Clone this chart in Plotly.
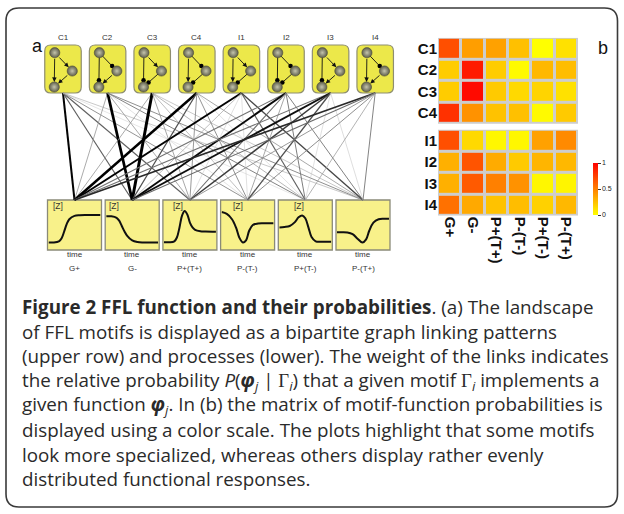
import plotly.graph_objects as go

# ---------------- data ----------------
motifs = ["C1", "C2", "C3", "C4", "I1", "I2", "I3", "I4"]
functions = ["G+", "G-", "P+(T+)", "P-(T-)", "P+(T-)", "P-(T+)"]
# edge signs of each motif: (X->Y, X->Z, Y->Z); +1 activation, -1 repression
motif_signs = [(1, 1, 1), (-1, -1, 1), (1, -1, -1), (-1, 1, -1),
               (1, 1, -1), (-1, -1, -1), (1, -1, 1), (-1, 1, 1)]
# P(phi_j | Gamma_i)
prob_C1 = [0.69, 0.38, 0.37, 0.25, 0.00, 0.12]
prob_C2 = [0.20, 0.90, 0.20, 0.02, 0.28, 0.26]
prob_C3 = [0.20, 0.96, 0.21, 0.15, 0.17, 0.12]
prob_C4 = [0.81, 0.43, 0.24, 0.25, 0.02, 0.21]
prob_I1 = [0.69, 0.15, 0.03, 0.03, 0.37, 0.46]
prob_I2 = [0.31, 0.67, 0.33, 0.21, 0.29, 0.28]
prob_I3 = [0.31, 0.65, 0.50, 0.43, 0.03, 0.04]
prob_I4 = [0.56, 0.34, 0.24, 0.26, 0.18, 0.28]
probs = [prob_C1, prob_C2, prob_C3, prob_C4, prob_I1, prob_I2, prob_I3, prob_I4]

# response curves [Z](time)
t_Gp = [0, 1, 2, 2.5, 3, 3.5, 4, 5, 6, 7, 8, 10]
z_Gp = [0.135, 0.135, 0.16, 0.22, 0.36, 0.52, 0.62, 0.69, 0.705, 0.71, 0.71, 0.71]
t_Gm = [0, 1, 2, 2.5, 3, 3.5, 4, 5, 6, 7, 8, 10]
z_Gm = [0.68, 0.68, 0.65, 0.59, 0.48, 0.37, 0.28, 0.18, 0.145, 0.135, 0.135, 0.135]
t_PpTp = [0, 1, 2, 2.5, 3, 3.5, 4, 4.5, 5, 5.5, 6, 7, 8, 10]
z_PpTp = [0.14, 0.14, 0.16, 0.24, 0.45, 0.70, 0.79, 0.72, 0.55, 0.45, 0.40, 0.37, 0.365, 0.36]
t_PmTm = [0, 1, 2, 2.8, 3.4, 4.1, 4.7, 5.3, 6, 7, 8, 10]
z_PmTm = [0.77, 0.73, 0.62, 0.44, 0.24, 0.135, 0.18, 0.38, 0.50, 0.53, 0.535, 0.535]
t_PpTm = [0, 1, 2, 3, 3.7, 4.4, 5, 5.6, 6.2, 7, 8, 10]
z_PpTm = [0.45, 0.46, 0.48, 0.56, 0.66, 0.70, 0.64, 0.45, 0.25, 0.16, 0.15, 0.15]
t_PmTp = [0, 1, 2, 3, 4, 4.9, 5.6, 6.2, 7, 8, 9, 10]
z_PmTp = [0.35, 0.35, 0.345, 0.31, 0.21, 0.135, 0.20, 0.38, 0.55, 0.62, 0.63, 0.63]
curves = [(t_Gp, z_Gp), (t_Gm, z_Gm), (t_PpTp, z_PpTp),
          (t_PmTm, z_PmTm), (t_PpTm, z_PpTm), (t_PmTp, z_PmTp)]
show_z = [True, True, True, True, True, False]
z_label_dx = [3, 2, 8, 10, 14, 0]

caption_lines = [
    "<b>Figure 2 FFL function and their probabilities</b>. (a) The landscape",
    "of FFL motifs is displayed as a bipartite graph linking patterns",
    "(upper row) and processes (lower). The weight of the links indicates",
    "the relative probability <i>P</i>(<b><i>φ</i></b><sub><i>j</i></sub> | "
    "<span style='font-family:Liberation Serif'>Γ</span><sub><i>i</i></sub>) that a given motif "
    "<span style='font-family:Liberation Serif'>Γ</span><sub><i>i</i></sub> implements a",
    "given function <b><i>φ</i></b><sub><i>j</i></sub>. In (b) the matrix of motif-function probabilities is",
    "displayed using a color scale. The plots highlight that some motifs",
    "look more specialized, whereas others display rather evenly",
    "distributed functional responses.",
]

# ---------------- layout geometry (pixels) ----------------
W, H = 624, 514
M_X0, M_DX, M_W = 63.0, 44.6, 36.5          # motif boxes
M_TOP, M_BOT = 45.0, 93.0
F_X0, F_DX, F_W = 74.5, 57.7, 54.0          # function boxes
F_TOP, F_BOT = 200.0, 250.0
NODE_R = 4.6

def py(y):
    return 1 - y / H

def rrect(x0, y0, x1, y1, r):
    return (f"M{x0+r},{y0} L{x1-r},{y0} Q{x1},{y0} {x1},{y0+r} L{x1},{y1-r} "
            f"Q{x1},{y1} {x1-r},{y1} L{x0+r},{y1} Q{x0},{y1} {x0},{y1-r} "
            f"L{x0},{y0+r} Q{x0},{y0} {x0+r},{y0} Z")

fig = go.Figure()
shapes = []
annotations = []

# outer frame
shapes.append(dict(type="path", path=rrect(6, 8, 617.5, 507, 13), xref="x", yref="y",
                   line=dict(color="#3a3a3a", width=1.6), layer="below"))

# ---- links between motifs and functions
for i, m in enumerate(motifs):
    mx = M_X0 + M_DX * i
    for j, f in enumerate(functions):
        fx = F_X0 + F_DX * j
        v = probs[i][j]
        g = int(round(max(0.0, 205 * (1 - v / 0.7))))
        fig.add_trace(go.Scatter(
            x=[mx, fx], y=[M_BOT, F_TOP], mode="lines", xaxis="x", yaxis="y",
            line=dict(color=f"rgb({g},{g},{g})", width=0.5 + 2.6 * v ** 1.4),
            hoverinfo="skip", showlegend=False))

# ---- motif boxes, nodes and edges
node_x, node_y = [], []
for i, m in enumerate(motifs):
    cx = M_X0 + M_DX * i
    L = cx - M_W / 2
    shapes.append(dict(type="path", path=rrect(L, M_TOP, L + M_W, M_BOT, 6),
                       xref="x", yref="y", fillcolor="#ECE84A",
                       line=dict(color="#8e8e70", width=1.2), layer="below"))
    annotations.append(dict(x=cx, y=37.5, xref="x", yref="y", text=m, showarrow=False,
                            font=dict(family="Arial, Liberation Sans", size=8, color="#333")))
    X = (L + 10, 52.7)
    Y = (L + 27.5, 71.0)
    Z = (L + 9.5, 87.0)
    node_x += [X[0], Y[0], Z[0]]
    node_y += [X[1], Y[1], Z[1]]
    for (a, b), s in zip([(X, Y), (X, Z), (Y, Z)], motif_signs[i]):
        dx, dy = b[0] - a[0], b[1] - a[1]
        d = (dx * dx + dy * dy) ** 0.5
        ux, uy = dx / d, dy / d
        sx, sy = a[0] + ux * NODE_R, a[1] + uy * NODE_R
        if s > 0:
            ex, ey = b[0] - ux * (NODE_R + 0.5), b[1] - uy * (NODE_R + 0.5)
            annotations.append(dict(x=ex, y=ey, ax=sx, ay=sy, xref="x", yref="y",
                                    axref="x", ayref="y", text="", showarrow=True,
                                    arrowhead=2, arrowsize=1.0, arrowwidth=0.9,
                                    arrowcolor="#111", standoff=0, startstandoff=0))
        else:
            ex, ey = b[0] - ux * (NODE_R + 2.2), b[1] - uy * (NODE_R + 2.2)
            fig.add_trace(go.Scatter(x=[sx, ex], y=[sy, ey], mode="lines", xaxis="x", yaxis="y",
                                     line=dict(color="#111", width=0.9),
                                     hoverinfo="skip", showlegend=False))
            fig.add_trace(go.Scatter(x=[ex], y=[ey], mode="markers", xaxis="x", yaxis="y",
                                     marker=dict(color="#000", size=4.5),
                                     hoverinfo="skip", showlegend=False))

fig.add_trace(go.Scatter(
    x=node_x, y=node_y, mode="markers", xaxis="x", yaxis="y",
    marker=dict(size=2 * NODE_R + 1, color="#5f5f4c",
                gradient=dict(type="radial", color="#c4c4ac"),
                line=dict(color="#4a4a3a", width=0.6)),
    hoverinfo="skip", showlegend=False))

# ---- function boxes with curves
for j, f in enumerate(functions):
    cx = F_X0 + F_DX * j
    x0, x1 = cx - F_W / 2, cx + F_W / 2
    shapes.append(dict(type="rect", x0=x0, x1=x1, y0=F_TOP, y1=F_BOT, xref="x", yref="y",
                       fillcolor="#F8F18A", line=dict(color="#8a8a78", width=1.3), layer="below"))
    ax_id = j + 3
    t, z = curves[j]
    fig.add_trace(go.Scatter(x=t, y=z, mode="lines", line=dict(color="#111", width=2, shape="spline"),
                             xaxis=f"x{ax_id}", yaxis=f"y{ax_id}", hoverinfo="skip", showlegend=False))
    fig.update_layout(**{
        f"xaxis{ax_id}": dict(domain=[(x0 + 1) / W, (x1 - 1) / W], range=[0, 10], visible=False,
                              anchor=f"y{ax_id}", fixedrange=True),
        f"yaxis{ax_id}": dict(domain=[py(F_BOT - 1), py(F_TOP + 1)], range=[0, 1], visible=False,
                              anchor=f"x{ax_id}", fixedrange=True),
    })
    if show_z[j]:
        annotations.append(dict(x=x0 + z_label_dx[j], y=206, xref="x", yref="y", text="[Z]",
                                xanchor="left", showarrow=False,
                                font=dict(family="Arial, Liberation Sans", size=8.5, color="#333")))
    annotations.append(dict(x=cx, y=254.5, xref="x", yref="y", text="time", showarrow=False,
                            font=dict(family="Arial, Liberation Sans", size=8, color="#333")))
    annotations.append(dict(x=cx, y=268, xref="x", yref="y", text=f, showarrow=False,
                            font=dict(family="Arial, Liberation Sans", size=8, color="#333")))

# panel labels
annotations.append(dict(x=37, y=46, xref="x", yref="y", text="a", showarrow=False,
                        font=dict(family="Arial, Liberation Sans", size=18, color="#111")))
annotations.append(dict(x=603, y=48, xref="x", yref="y", text="b", showarrow=False,
                        font=dict(family="Arial, Liberation Sans", size=18, color="#111")))

# ---- heatmap (panel b)
GAP = 0.279
c_rows = [0, 1, 2, 3]
i_rows = [3 + GAP + 1, 3 + GAP + 2, 3 + GAP + 3, 3 + GAP + 4]
fig.add_trace(go.Heatmap(z=probs[:4], x=list(range(6)), y=c_rows, coloraxis="coloraxis",
                         xgap=3, ygap=3, xaxis="x2", yaxis="y2", hoverinfo="skip"))
fig.add_trace(go.Heatmap(z=probs[4:], x=list(range(6)), y=i_rows, coloraxis="coloraxis",
                         xgap=3, ygap=3, xaxis="x2", yaxis="y2", hoverinfo="skip"))
for y0, y1 in [(-0.5, 3.5), (3.5 + GAP, 7.5 + GAP)]:
    shapes.append(dict(type="rect", xref="x2", yref="y2", x0=-0.5, x1=5.5, y0=y0, y1=y1,
                       fillcolor="#cdcdcd", line=dict(width=0), layer="below"))

# caption
for k, line in enumerate(caption_lines):
    annotations.append(dict(x=20, y=307 + 24.6 * k, xref="x", yref="y", text=line,
                            xanchor="left", yanchor="middle", showarrow=False,
                            font=dict(family="Open Sans", size=18.8, color="#2a2a2a")))

fig.update_layout(
    width=W, height=H, margin=dict(l=0, r=0, t=0, b=0, autoexpand=False),
    paper_bgcolor="white", plot_bgcolor="rgba(0,0,0,0)",
    xaxis=dict(domain=[0, 1], range=[0, W], visible=False, fixedrange=True),
    yaxis=dict(domain=[0, 1], range=[H, 0], visible=False, fixedrange=True),
    xaxis2=dict(domain=[438 / W, 578 / W], range=[-0.5, 5.5], anchor="y2",
                tickvals=list(range(6)), ticktext=functions, tickangle=90, ticks="",
                showgrid=False, zeroline=False, showline=False, fixedrange=True,
                tickfont=dict(family="Arial, Liberation Sans", size=15, color="#111", weight="bold")),
    yaxis2=dict(domain=[py(215.8), py(37.8)], range=[7.5 + GAP, -0.5], anchor="x2",
                tickvals=c_rows + i_rows, ticktext=motifs, ticks="",
                showgrid=False, zeroline=False, showline=False, fixedrange=True,
                tickfont=dict(family="Arial, Liberation Sans", size=15, color="#111", weight="bold")),
    coloraxis=dict(cmin=0, cmax=1,
                   colorscale=[[0, "#FFFF00"], [0.5, "#FF8000"], [1, "#FF0000"]],
                   colorbar=dict(x=593 / W, xanchor="left", y=py(215), yanchor="bottom",
                                 len=52, lenmode="pixels", thickness=5, thicknessmode="pixels",
                                 outlinewidth=0, xpad=0, ypad=0,
                                 tickvals=[0, 0.5, 1], ticktext=["0", "0.5", "1"],
                                 ticks="outside", ticklen=3, tickwidth=0.8, tickcolor="#333",
                                 tickfont=dict(family="Arial, Liberation Sans", size=7, color="#222"))),
    shapes=shapes, annotations=annotations, showlegend=False,
)

fig.write_html("out.html", config={"displayModeBar": False},
               post_script="document.body.style.margin='0';document.body.style.padding='0';")
